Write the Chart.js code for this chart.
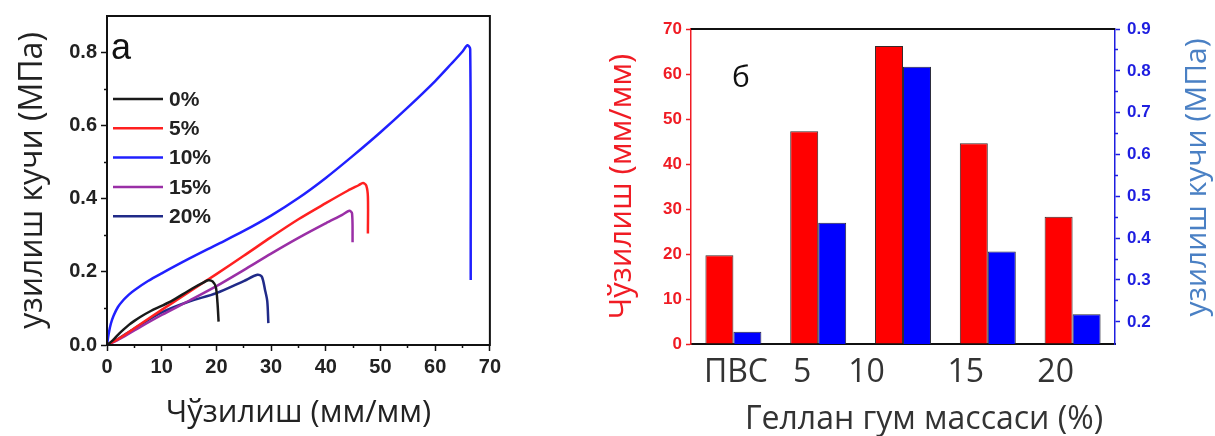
<!DOCTYPE html>
<html>
<head>
<meta charset="utf-8">
<script src="https://cdn.jsdelivr.net/npm/chart.js@4.4.1/dist/chart.umd.min.js"></script>
<style>
  body { margin: 0; background: #fff; }
  #wrap { position: relative; width: 1215px; height: 436px; overflow: hidden; }
  canvas { position: absolute; top: 0; }
  #strainChart { left: 0; }
  #barChart { left: 505px; }
  .panel { position: absolute; color: #111; }
  #tagA { left: 111px; top: 29px; font: 36px/36px "Liberation Sans", Arial, sans-serif; }
  #tagB { left: 732px; top: 61px; font: 30px/30px "Open Sans", sans-serif; }
</style>
</head>
<body>
<div id="wrap">
  <canvas id="strainChart" width="505" height="436"></canvas>
  <canvas id="barChart" width="710" height="436"></canvas>
  <div class="panel" id="tagA">а</div>
  <div class="panel" id="tagB">б</div>
</div>
<script>
// ===== Panel а: stress–strain curves =====
const seriesNames = ["0%", "5%", "10%", "15%", "20%"];
const seriesColors = ["#1a1a1a", "#ff2020", "#2020ff", "#9a2fa6", "#202a88"];

const strain0 = [0, 1, 2, 3, 4, 5, 6, 8, 10, 12, 14, 16, 17.5, 18.5, 19.3, 19.9, 20.2, 20.4];
const stress0 = [0, 0.012, 0.028, 0.042, 0.055, 0.066, 0.076, 0.093, 0.107, 0.122, 0.14, 0.158, 0.17, 0.177, 0.174, 0.158, 0.115, 0.064];

const strain5 = [0, 2, 5, 10, 15, 20, 25, 30, 35, 40, 44, 46, 46.8, 47.4, 47.7, 47.7];
const stress5 = [0, 0.016, 0.046, 0.096, 0.145, 0.194, 0.244, 0.295, 0.344, 0.388, 0.422, 0.437, 0.443, 0.436, 0.405, 0.305];

const strain10 = [0, 0.3, 0.7, 1.2, 2, 3, 4, 5, 7.5, 10, 15, 20, 25, 30, 35, 40, 45, 50, 55, 60, 63, 65, 65.9, 66.4, 66.5];
const stress10 = [0, 0.03, 0.058, 0.08, 0.104, 0.123, 0.138, 0.15, 0.175, 0.196, 0.236, 0.274, 0.312, 0.354, 0.402, 0.457, 0.518, 0.582, 0.65, 0.722, 0.77, 0.803, 0.82, 0.81, 0.178];

const strain15 = [0, 2, 5, 10, 15, 20, 25, 30, 35, 40, 43, 44.3, 44.8, 44.9];
const stress15 = [0, 0.014, 0.04, 0.082, 0.121, 0.161, 0.205, 0.25, 0.293, 0.333, 0.356, 0.367, 0.36, 0.281];

const strain20 = [0, 2, 5, 10, 15, 20, 25, 27.5, 28.3, 28.9, 29.3, 29.5];
const stress20 = [0, 0.016, 0.045, 0.089, 0.119, 0.142, 0.175, 0.192, 0.187, 0.15, 0.12, 0.06];

// ===== Panel б: grouped bars on two value axes =====
const groups = ["ПВС", "5", "10", "15", "20"];
const elongation = [19.7, 47.3, 66.2, 44.6, 28.3];   // мм/мм, left axis
const strength = [0.176, 0.437, 0.81, 0.368, 0.218]; // МПа, right axis

const NUM_FONT = "'Liberation Sans', Arial, sans-serif";
const TXT_FONT = "'Open Sans', sans-serif";
const RED = "#f01c24";
const BLUE = "#1e1ee0";

function onStep(v, step) {
    return Math.abs(v / step - Math.round(v / step)) < 1e-6;
}

// ----- inline legend in the upper left of the plot -----
const inlineLegend = {
    id: "inlineLegend",
    afterDatasetsDraw(chart) {
        const { ctx, chartArea } = chart;
        ctx.save();
        ctx.font = "bold 21px " + NUM_FONT;
        ctx.textBaseline = "middle";
        chart.data.datasets.forEach(function(ds, i) {
            const y = chartArea.top + 83 + i * 29.3;
            ctx.strokeStyle = ds.borderColor;
            ctx.lineWidth = 2.5;
            ctx.beginPath();
            ctx.moveTo(chartArea.left + 6, y);
            ctx.lineTo(chartArea.left + 56, y);
            ctx.stroke();
            ctx.fillStyle = "#222";
            ctx.fillText(ds.label, chartArea.left + 62, y + 1);
        });
        ctx.restore();
    }
};

// ----- closed box round the plot -----
const boxFrame = {
    id: "boxFrame",
    afterDatasetsDraw(chart) {
        const { ctx, chartArea } = chart;
        ctx.save();
        ctx.strokeStyle = "#111";
        ctx.lineWidth = 2;
        ctx.strokeRect(chartArea.left, chartArea.top, chartArea.right - chartArea.left, chartArea.bottom - chartArea.top);
        ctx.restore();
    }
};

const curves = [[strain0, stress0], [strain5, stress5], [strain10, stress10], [strain15, stress15], [strain20, stress20]];

const lineSets = curves.map(function(pair, i) {
    const xs = pair[0], ys = pair[1];
    return {
        label: seriesNames[i],
        data: xs.map(function(x, k) { return { x: x, y: ys[k] }; }),
        borderColor: seriesColors[i],
        borderWidth: 2.5,
        pointRadius: 0,
        tension: 0.3,
        fill: false
    };
});

new Chart(document.getElementById("strainChart"), {
    type: "line",
    data: { datasets: lineSets },
    plugins: [inlineLegend, boxFrame],
    options: {
        responsive: false,
        animation: false,
        layout: { padding: { top: 15, right: 8, left: 0, bottom: 0 } },
        plugins: { legend: { display: false }, tooltip: { enabled: false } },
        scales: {
            x: {
                type: "linear", min: 0, max: 70,
                ticks: { stepSize: 10, color: "#222", font: { family: NUM_FONT, size: 20, weight: "bold" }, padding: 4, maxRotation: 0 },
                grid: { drawOnChartArea: false, tickLength: 6, tickColor: "#111", tickWidth: 1.5 },
                border: { color: "#111", width: 2 },
                title: { display: true, text: "Чўзилиш (мм/мм)", color: "#222", font: { family: TXT_FONT, size: 31 }, padding: { top: 0, bottom: 4 } },
                afterFit: function(s) { s.height = 91; }
            },
            xMinor: {
                type: "linear", position: "bottom", weight: -1, min: 0, max: 70,
                ticks: { stepSize: 5, display: false },
                grid: { drawOnChartArea: false, tickLength: 3, tickColor: "#111", tickWidth: 1.5 },
                border: { display: false },
                afterBuildTicks: function(s) { s.ticks = s.ticks.filter(function(t) { return !onStep(t.value, 10); }); },
                afterFit: function(s) { s.height = 0; }
            },
            y: {
                type: "linear", min: 0, max: 0.9,
                ticks: { stepSize: 0.2, color: "#222", font: { family: NUM_FONT, size: 20, weight: "bold" }, padding: 4,
                         callback: function(v) { return v.toFixed(1); } },
                grid: { drawOnChartArea: false, tickLength: 6, tickColor: "#111", tickWidth: 1.5 },
                border: { color: "#111", width: 2 },
                title: { display: true, text: "узилиш кучи (МПа)", color: "#222", font: { family: TXT_FONT, size: 32 }, padding: { top: 14, bottom: 0 } },
                afterBuildTicks: function(s) { s.ticks = s.ticks.filter(function(t) { return onStep(t.value, 0.2); }); },
                afterFit: function(s) { s.width = 107; }
            },
            yMinor: {
                type: "linear", position: "left", weight: -1, min: 0, max: 0.9,
                ticks: { stepSize: 0.1, display: false },
                grid: { drawOnChartArea: false, tickLength: 3, tickColor: "#111", tickWidth: 1.5 },
                border: { display: false },
                afterBuildTicks: function(s) {
                    s.ticks = s.ticks.filter(function(t) { return onStep(t.value, 0.1) && !onStep(t.value, 0.2) && t.value < 0.85; });
                },
                afterFit: function(s) { s.width = 0; }
            }
        }
    }
});

// ----- top border, bottom title and the right-hand title (reads bottom to top) -----
const barDecor = {
    id: "barDecor",
    afterDraw(chart) {
        const { ctx, chartArea } = chart;
        ctx.save();
        ctx.strokeStyle = "#111";
        ctx.lineWidth = 2;
        ctx.beginPath();
        ctx.moveTo(chartArea.left, chartArea.top);
        ctx.lineTo(chartArea.right, chartArea.top);
        ctx.stroke();

        ctx.font = "32px " + TXT_FONT;
        ctx.fillStyle = "#333";
        ctx.textAlign = "center";
        ctx.textBaseline = "middle";
        ctx.fillText("Геллан гум массаси (%)", (chartArea.left + chartArea.right) / 2 + 21, chartArea.bottom + 76);

        ctx.translate(chartArea.right + 82, (chartArea.top + chartArea.bottom) / 2 - 9);
        ctx.rotate(-Math.PI / 2);
        ctx.font = "30px " + TXT_FONT;
        ctx.fillStyle = "#4a80c4";
        ctx.fillText("узилиш кучи (МПа)", 0, 0);
        ctx.restore();
    }
};

// label spots along the category axis (in category units)
const groupTickAt = [0.53, 1.31, 2.07, 3.24, 4.3];

new Chart(document.getElementById("barChart"), {
    type: "bar",
    data: {
        labels: groups,
        datasets: [
            { label: "Чўзилиш", data: elongation, yAxisID: "y", backgroundColor: "#ff0000", borderColor: "#3a2a2a", borderWidth: 1 },
            { label: "узилиш кучи", data: strength, yAxisID: "y1", backgroundColor: "#0000ff", borderColor: "#2a2a3a", borderWidth: 1 }
        ]
    },
    plugins: [barDecor],
    options: {
        responsive: false,
        animation: false,
        barPercentage: 1,
        categoryPercentage: 0.66,
        layout: { padding: { top: 29, right: 0, left: 0, bottom: 0 } },
        plugins: { legend: { display: false }, tooltip: { enabled: false } },
        scales: {
            x: { display: false },
            xl: {
                type: "linear", position: "bottom", min: 0, max: 5, offset: false,
                afterBuildTicks: function(s) { s.ticks = groupTickAt.map(function(v) { return { value: v }; }); },
                ticks: { autoSkip: false, maxRotation: 0, color: "#333", font: { family: TXT_FONT, size: 32 }, padding: 10,
                         callback: function(v, i) { return groups[i]; } },
                grid: { drawOnChartArea: false, drawTicks: false, offset: false },
                border: { color: "#111", width: 2 },
                afterFit: function(s) { s.height = 92; }
            },
            y: {
                type: "linear", position: "left", min: 0, max: 70,
                ticks: { stepSize: 10, color: RED, font: { family: NUM_FONT, size: 17, weight: "bold" }, padding: 4 },
                grid: { drawOnChartArea: false, tickLength: 5, tickColor: RED, tickWidth: 1.5 },
                border: { color: RED, width: 1.5 },
                title: { display: true, text: "Чўзилиш (мм/мм)", color: RED, font: { family: TXT_FONT, size: 31 }, padding: { top: 99, bottom: 0 } },
                afterFit: function(s) { s.width = 186; }
            },
            y1: {
                type: "linear", position: "right", min: 0.147, max: 0.9,
                ticks: { stepSize: 0.1, color: BLUE, font: { family: NUM_FONT, size: 17, weight: "bold" }, padding: 7,
                         callback: function(v) { return v.toFixed(1); } },
                grid: { drawOnChartArea: false, tickLength: 5, tickColor: BLUE, tickWidth: 1.5 },
                border: { color: BLUE, width: 1.5 },
                afterBuildTicks: function(s) { s.ticks = s.ticks.filter(function(t) { return t.value > 0.199 && onStep(t.value, 0.1); }); },
                afterFit: function(s) { s.width = 100; }
            },
            y1Minor: {
                type: "linear", position: "right", weight: -1, min: 0.147, max: 0.9,
                ticks: { stepSize: 0.05, display: false },
                grid: { drawOnChartArea: false, tickLength: 3, tickColor: BLUE, tickWidth: 1.5 },
                border: { display: false },
                afterBuildTicks: function(s) {
                    s.ticks = s.ticks.filter(function(t) { return t.value > 0.2 && onStep(t.value, 0.05) && !onStep(t.value, 0.1); });
                },
                afterFit: function(s) { s.width = 0; }
            }
        }
    }
});
</script>
</body>
</html>
